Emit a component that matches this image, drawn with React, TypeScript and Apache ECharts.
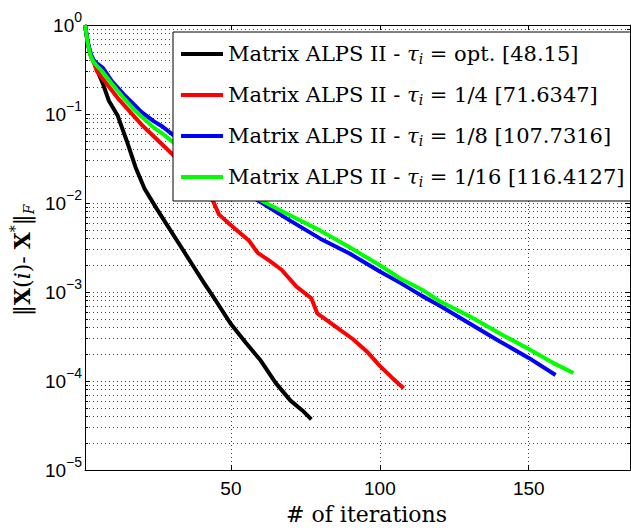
import React, { useEffect, useRef } from 'react';
import * as echarts from 'echarts';

const xMin = 1;
const xMax = 184;
const xTickValues = [50, 100, 150];
const yMin = 1e-5;
const yMax = 1;
const yTickValues = [1e-5, 1e-4, 1e-3, 1e-2, 1e-1, 1];
const yTickExponents = ['−5', '−4', '−3', '−2', '−1', '0'];

const seriesIds = ['opt', 'q4', 'q8', 'q16'];
const tauLabels = ['opt.', '1/4', '1/8', '1/16'];
const timeLabels = ['48.15', '71.6347', '107.7316', '116.4127'];
const seriesColors = ['#000000', '#ff0000', '#0000ff', '#00ff00'];

const optData: [number, number][] = [
  [1, 1], [2, 0.603], [3, 0.447], [4, 0.38], [5, 0.316], [7, 0.219], [9, 0.141],
  [12, 0.0955], [15, 0.0501], [18, 0.0251], [21, 0.0145], [25, 0.00871], [29, 0.00537],
  [33, 0.00331], [37, 0.00204], [41, 0.00126], [45, 0.000794], [50, 0.000437],
  [55, 0.000269], [60, 0.00017], [65, 9.55e-5], [70, 6.03e-5], [74, 4.68e-5], [77, 3.72e-5],
];
const quarterData: [number, number][] = [
  [1, 1], [2, 0.603], [3, 0.447], [4, 0.38], [5, 0.302], [8, 0.224], [12, 0.151],
  [16, 0.107], [20, 0.0759], [25, 0.0525], [30, 0.0363], [35, 0.024], [40, 0.0151],
  [44, 0.0105], [46, 0.00741], [50, 0.00562], [56, 0.0038], [59, 0.00275], [63, 0.00224],
  [67, 0.00178], [72, 0.00115], [77, 0.000851], [79, 0.000575], [84, 0.000437],
  [91, 0.000295], [96, 0.000209], [100, 0.000148], [104, 0.00011], [108, 8.32e-5],
];
const eighthData: [number, number][] = [
  [1, 1], [2, 0.631], [3, 0.468], [4, 0.398], [5, 0.372], [7, 0.331], [10, 0.234],
  [14, 0.166], [17, 0.132], [20, 0.105], [24, 0.0832], [27, 0.0724], [30, 0.0603],
  [40, 0.0316], [50, 0.0174], [59, 0.0107], [70, 0.00631], [80, 0.00398], [90, 0.00269],
  [100, 0.0017], [107, 0.00126], [114, 0.000912], [120, 0.000708], [130, 0.000447],
  [140, 0.000282], [150, 0.000182], [159, 0.000117],
];
const sixteenthData: [number, number][] = [
  [1, 1], [2, 0.603], [3, 0.437], [4, 0.38], [5, 0.347], [7, 0.295], [10, 0.219],
  [14, 0.151], [17, 0.117], [20, 0.0933], [24, 0.0708], [27, 0.0603], [30, 0.0501],
  [45, 0.0224], [59, 0.0112], [70, 0.00724], [80, 0.0049], [90, 0.00316], [100, 0.002],
  [107, 0.00141], [114, 0.00107], [120, 0.000794], [130, 0.000537], [140, 0.000347],
  [150, 0.000229], [159, 0.000155], [165, 0.000123],
];
const allData = [optData, quarterData, eighthData, sixteenthData];

const SANS = 'Liberation Sans';
const SERIF = 'DejaVu Serif';

function yLabel(v: number): string {
  for (let i = 0; i < yTickValues.length; i++) {
    if (Math.abs(Math.log10(v) - Math.log10(yTickValues[i])) < 1e-6) {
      return '{b|10}{e|' + yTickExponents[i] + '}';
    }
  }
  return '';
}

export default function App() {
  const ref = useRef<HTMLDivElement>(null);
  useEffect(() => {
    if (!ref.current) return;
    const chart = echarts.init(ref.current, undefined, { renderer: 'svg' });
    const gridLine = { color: '#444', width: 1, type: [1, 3] as any };
    const tok = (extra: any) => ({ fontFamily: SERIF, fontSize: 22, lineHeight: 28, fill: '#000', ...extra });
    const option: any = {
      animation: false,
      backgroundColor: '#fff',
      grid: { left: 85, right: 1, top: 25, bottom: 55, containLabel: false },
      legend: {
        orient: 'vertical',
        left: 173,
        top: 32,
        z: 20,
        data: seriesIds,
        icon: 'rect',
        itemWidth: 42,
        itemHeight: 4,
        itemGap: 17,
        padding: [10, 6, 12, 8],
        borderColor: '#000',
        borderWidth: 1,
        borderRadius: 0,
        backgroundColor: '#fff',
        selectedMode: false,
        formatter: (name: string) => {
          const i = seriesIds.indexOf(name);
          return '{m|Matrix ALPS II - }{t|τ}{s|i}{m| = ' + tauLabels[i] + ' [' + timeLabels[i] + ']}';
        },
        textStyle: {
          color: '#000',
          fontFamily: SERIF,
          fontSize: 21,
          lineHeight: 24,
          rich: {
            m: { fontFamily: SERIF, fontSize: 21, lineHeight: 24, color: '#000' },
            t: { fontFamily: SERIF, fontSize: 21, lineHeight: 24, fontStyle: 'italic', color: '#000' },
            s: { fontFamily: SERIF, fontSize: 14, lineHeight: 14, fontStyle: 'italic', verticalAlign: 'bottom', color: '#000' },
          },
        },
      },
      graphic: [
        {
          type: 'text',
          x: 22,
          y: 316,
          rotation: Math.PI / 2,
          z: 10,
          style: {
            text: '{bar|‖}{bx|X}{n|(}{it|i}{n|)- }{bx|X}{sup|*}{bar|‖}{sub|F}',
            align: 'left',
            verticalAlign: 'middle',
            fill: '#000',
            fontFamily: SERIF,
            fontSize: 22,
            rich: {
              bar: tok({}),
              bx: tok({ fontWeight: 'bold' }),
              n: tok({}),
              it: tok({ fontStyle: 'italic' }),
              sup: tok({ fontSize: 14, lineHeight: 14, verticalAlign: 'top' }),
              sub: tok({ fontSize: 14, lineHeight: 14, fontStyle: 'italic', verticalAlign: 'bottom' }),
            },
          },
        },
      ],
      xAxis: [
        {
          type: 'value',
          position: 'bottom',
          min: xMin,
          max: xMax,
          name: '# of iterations',
          nameLocation: 'middle',
          nameGap: 11,
          nameTextStyle: { fontFamily: SERIF, fontSize: 22, color: '#000', padding: [0, 0, 0, 18] },
          axisLine: { show: true, lineStyle: { color: '#000', width: 1 } },
          axisTick: { show: true, inside: true, length: 5, customValues: xTickValues, lineStyle: { color: '#000' } },
          axisLabel: { show: true, customValues: xTickValues, margin: 9, fontFamily: SANS, fontSize: 19, color: '#000' },
          splitLine: { show: true, lineStyle: gridLine },
        },
        {
          type: 'value',
          position: 'top',
          min: xMin,
          max: xMax,
          axisLine: { show: true, lineStyle: { color: '#000', width: 1 } },
          axisTick: { show: true, inside: true, length: 5, customValues: xTickValues, lineStyle: { color: '#000' } },
          axisLabel: { show: false },
          splitLine: { show: false },
        },
      ],
      yAxis: [
        {
          type: 'log',
          logBase: 10,
          position: 'left',
          min: yMin,
          max: yMax,
          axisLine: { show: true, lineStyle: { color: '#000', width: 1 } },
          axisTick: { show: true, inside: true, length: 5, lineStyle: { color: '#000' } },
          minorTick: { show: true, splitNumber: 9, length: 3, lineStyle: { color: '#000' } },
          axisLabel: {
            show: true,
            margin: 3,
            formatter: yLabel,
            rich: {
              b: { fontFamily: SANS, fontSize: 19, lineHeight: 30, color: '#000' },
              e: { fontFamily: SANS, fontSize: 14, lineHeight: 14, verticalAlign: 'top', color: '#000' },
            },
          },
          splitLine: { show: true, lineStyle: gridLine },
          minorSplitLine: { show: true, lineStyle: gridLine },
        },
        {
          type: 'log',
          logBase: 10,
          position: 'right',
          min: yMin,
          max: yMax,
          axisLine: { show: true, lineStyle: { color: '#000', width: 1 } },
          axisTick: { show: true, inside: true, length: 5, lineStyle: { color: '#000' } },
          minorTick: { show: true, splitNumber: 9, length: 3, lineStyle: { color: '#000' } },
          axisLabel: { show: false },
          splitLine: { show: false },
        },
      ],
      series: allData.map((d, i) => ({
        name: seriesIds[i],
        type: 'line',
        xAxisIndex: 0,
        yAxisIndex: 0,
        data: d,
        symbol: 'none',
        showSymbol: false,
        color: seriesColors[i],
        lineStyle: { color: seriesColors[i], width: 4 },
        itemStyle: { color: seriesColors[i] },
        z: 2,
      })),
    };
    chart.setOption(option);
    return () => chart.dispose();
  }, []);
  return <div ref={ref} style={{ width: 631, height: 530, position: 'absolute', left: 0, top: 0 }} />;
}
